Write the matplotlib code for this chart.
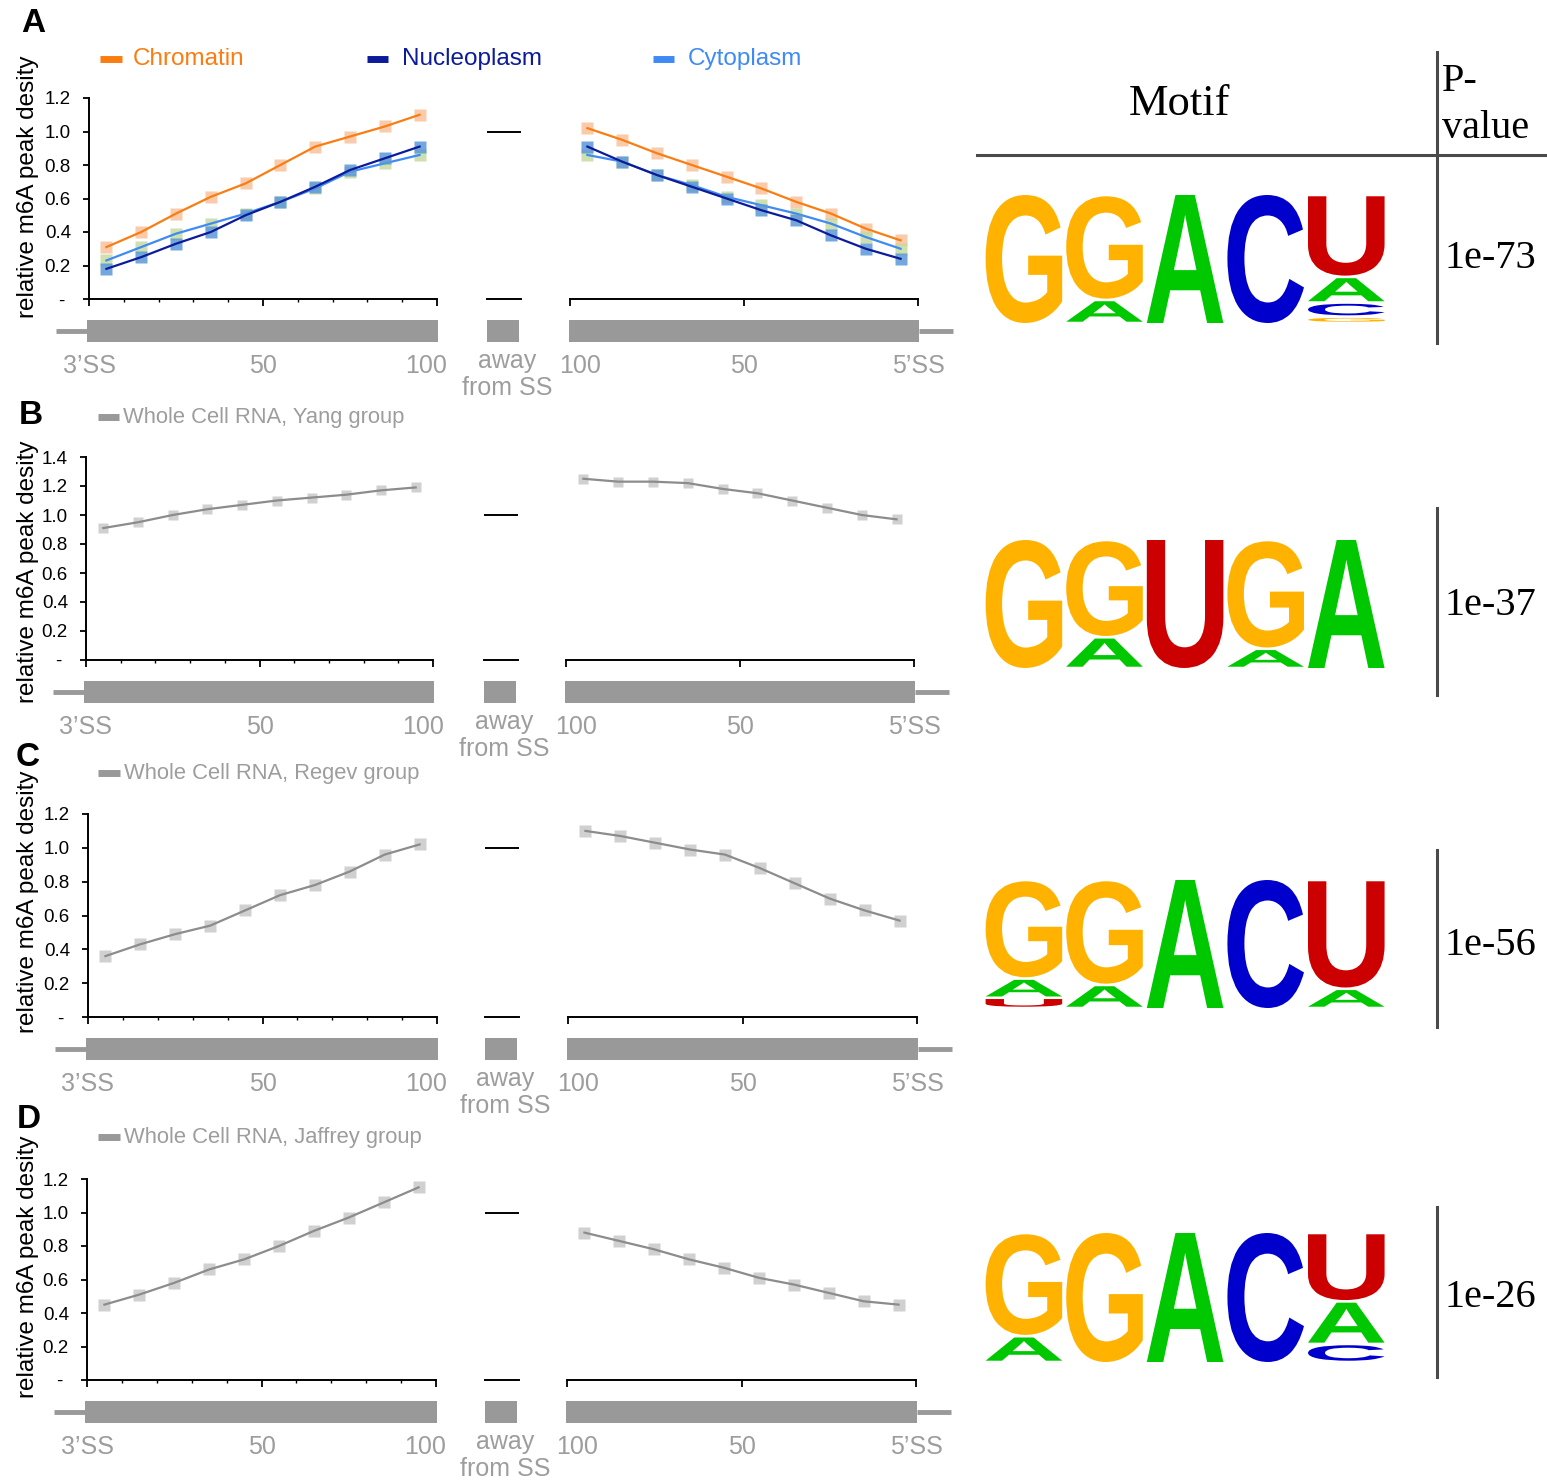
import numpy as np
import matplotlib.pyplot as plt
import matplotlib.transforms as mtransforms
from matplotlib.font_manager import FontProperties
from matplotlib.lines import Line2D
from matplotlib.patches import PathPatch, Rectangle
from matplotlib.textpath import TextPath

W, H = 1547, 1481
plt.rcParams['font.family'] = ['Liberation Sans', 'DejaVu Sans']

# bin centres (% of exon length) measured from the 3'SS and from the 5'SS
POS_FROM_3SS = [5, 15, 25, 35, 45, 55, 65, 75, 85, 95]
POS_FROM_5SS = [95, 85, 75, 65, 55, 45, 35, 25, 15, 5]
AWAY_LEVEL = 1.0

# panel A: fractionated RNA
A_CHROM_3 = [0.31, 0.40, 0.51, 0.61, 0.69, 0.80, 0.91, 0.97, 1.03, 1.10]
A_NUCL_3 = [0.18, 0.25, 0.33, 0.40, 0.50, 0.58, 0.67, 0.77, 0.84, 0.91]
A_CYTO_3 = [0.23, 0.31, 0.39, 0.45, 0.51, 0.58, 0.66, 0.76, 0.81, 0.86]
A_CHROM_5 = [1.02, 0.95, 0.87, 0.80, 0.73, 0.66, 0.58, 0.51, 0.42, 0.35]
A_NUCL_5 = [0.91, 0.82, 0.74, 0.67, 0.60, 0.53, 0.47, 0.38, 0.30, 0.24]
A_CYTO_5 = [0.86, 0.82, 0.74, 0.68, 0.61, 0.56, 0.51, 0.45, 0.37, 0.30]

# panels B-D: whole cell RNA
B_YANG_3 = [0.91, 0.95, 1.00, 1.04, 1.07, 1.10, 1.12, 1.14, 1.17, 1.19]
B_YANG_5 = [1.25, 1.23, 1.23, 1.22, 1.18, 1.15, 1.10, 1.05, 1.00, 0.97]
C_REGEV_3 = [0.36, 0.43, 0.49, 0.54, 0.63, 0.72, 0.78, 0.86, 0.96, 1.02]
C_REGEV_5 = [1.10, 1.07, 1.03, 0.99, 0.96, 0.88, 0.79, 0.70, 0.63, 0.57]
D_JAFF_3 = [0.45, 0.51, 0.58, 0.66, 0.72, 0.80, 0.89, 0.97, 1.06, 1.15]
D_JAFF_5 = [0.88, 0.83, 0.78, 0.72, 0.67, 0.61, 0.57, 0.52, 0.47, 0.45]

# motif letter frequencies per position, stacked bottom -> top
MOTIF_A = [[('G', 1.0)], [('A', 0.18), ('G', 0.82)], [('A', 1.0)], [('C', 1.0)],
           [('G', 0.05), ('C', 0.11), ('A', 0.20), ('U', 0.64)]]
MOTIF_B = [[('G', 1.0)], [('A', 0.24), ('G', 0.76)], [('U', 1.0)],
           [('A', 0.15), ('G', 0.85)], [('A', 1.0)]]
MOTIF_C = [[('U', 0.08), ('A', 0.15), ('G', 0.77)], [('A', 0.18), ('G', 0.82)],
           [('A', 1.0)], [('C', 1.0)], [('A', 0.15), ('U', 0.85)]]
MOTIF_D = [[('A', 0.2), ('G', 0.8)], [('G', 1.0)], [('A', 1.0)], [('C', 1.0)],
           [('C', 0.14), ('A', 0.33), ('U', 0.53)]]
PVALUES = ['1e-73', '1e-37', '1e-56', '1e-26']

TRACK_LABELS_3 = ['3\u2019SS', '50', '100']
TRACK_LABELS_5 = ['100', '50', '5\u2019SS']
TRACK_LABEL_POS_3 = [0, 50, 97]
TRACK_LABEL_POS_5 = [97, 50, 0]

ORANGE, NAVY, SKY = '#fb7d12', '#0b1b9a', '#3f8af5'
GENE = '#999999'
GREY_TXT = '#9d9d9d'
BASE_COL = {'G': '#ffb300', 'A': '#00c800', 'C': '#0000cc', 'U': '#cc0000'}
TRACK_FS = 18

fig = plt.figure(figsize=(W / 100, H / 100), dpi=100)


def px_rect(x0, y0, x1, y1):
    return [x0 / W, 1 - y1 / H, (x1 - x0) / W, (y1 - y0) / H]


def fx(x):
    return x / W


def fy(y):
    return 1 - y / H


def gene_track(ax, h, x_lo, x_hi, intron=None):
    trans = ax.get_xaxis_transform()
    y0, y1 = -43 / h, -21 / h
    ax.add_patch(Rectangle((x_lo, y0), x_hi - x_lo, y1 - y0, transform=trans,
                           fc=GENE, ec='none', clip_on=False))
    if intron is not None:
        ax.plot(intron, [(y0 + y1) / 2] * 2, transform=trans, color=GENE,
                lw=3.5, clip_on=False, solid_capstyle='butt')


def track_labels(ax, h, xs, labels):
    trans = ax.get_xaxis_transform()
    for x, s in zip(xs, labels):
        ax.text(x, -74 / h, s, transform=trans, ha='center', va='baseline',
                color=GREY_TXT, fontsize=TRACK_FS)


def make_panel(lay, ymax, series):
    top, bottom = lay['top'], lay['bottom']
    h = bottom - top

    # distance from the 3'SS
    ax = fig.add_axes(px_rect(lay['left'][0], top, lay['left'][1], bottom))
    ax.patch.set_alpha(0)
    for s in ('top', 'right'):
        ax.spines[s].set_visible(False)
    for s in ('left', 'bottom'):
        ax.spines[s].set_linewidth(1.4)
    ax.set_xlim(0, 100)
    ax.set_ylim(0, ymax)
    ax.set_xticks([0, 50, 100])
    ax.set_xticks(np.arange(10, 100, 10), minor=True)
    ax.set_xticklabels([])
    ax.tick_params(axis='x', which='major', direction='out', length=5, width=1.3)
    ax.tick_params(axis='x', which='minor', direction='out', length=2.5, width=1)
    yt = np.round(np.arange(0, ymax + 0.001, 0.2), 1)
    ax.set_yticks(yt)
    ax.set_yticklabels(['- '] + ['%.1f' % v for v in yt[1:]], fontsize=13.5)
    ax.tick_params(axis='y', direction='out', length=4, width=1.3, pad=9)
    for vals, lc, mc, ms in series:
        ax.plot(POS_FROM_3SS, vals[0], ls='none', marker='s', ms=ms, mfc=mc,
                mec='none', alpha=0.85, clip_on=False)
        ax.plot(POS_FROM_3SS, vals[0], color=lc, lw=1.6, clip_on=False)
    gene_track(ax, h, -0.6, 100.3, intron=(-9.5, -0.6))
    track_labels(ax, h, TRACK_LABEL_POS_3, TRACK_LABELS_3)

    # far from either splice site
    axm = fig.add_axes(px_rect(lay['mid'][0], top, lay['mid'][1], bottom))
    axm.patch.set_alpha(0)
    for s in ('top', 'right', 'left'):
        axm.spines[s].set_visible(False)
    axm.spines['bottom'].set_linewidth(1.4)
    axm.set_xlim(0, 1)
    axm.set_ylim(0, ymax)
    axm.set_xticks([])
    axm.set_yticks([])
    axm.plot([0, 1], [AWAY_LEVEL, AWAY_LEVEL], color='black', lw=1.4)
    gene_track(axm, h, 0.0, 0.93)
    tr = axm.get_xaxis_transform()
    axm.text(0.6, -69 / h, 'away', transform=tr, ha='center', va='baseline',
             color=GREY_TXT, fontsize=TRACK_FS)
    axm.text(0.6, -96 / h, 'from SS', transform=tr, ha='center', va='baseline',
             color=GREY_TXT, fontsize=TRACK_FS)

    # distance from the 5'SS
    axr = fig.add_axes(px_rect(lay['right'][0], top, lay['right'][1], bottom))
    axr.patch.set_alpha(0)
    for s in ('top', 'right', 'left'):
        axr.spines[s].set_visible(False)
    axr.spines['bottom'].set_linewidth(1.4)
    axr.set_xlim(100, 0)
    axr.set_ylim(0, ymax)
    axr.set_xticks([100, 50, 0])
    axr.set_xticklabels([])
    axr.set_yticks([])
    axr.tick_params(axis='x', direction='out', length=5, width=1.3)
    for vals, lc, mc, ms in series:
        axr.plot(POS_FROM_5SS, vals[1], ls='none', marker='s', ms=ms, mfc=mc,
                 mec='none', alpha=0.85, clip_on=False)
        axr.plot(POS_FROM_5SS, vals[1], color=lc, lw=1.6, clip_on=False)
    gene_track(axr, h, 100.3, -0.3, intron=(-0.3, -10.0))
    track_labels(axr, h, TRACK_LABEL_POS_5, TRACK_LABELS_5)

    fig.text(fx(lay['tag'][0]), fy(lay['tag'][1]), lay['name'], ha='center',
             va='center', fontsize=24, fontweight='bold')
    fig.text(fx(28), fy(lay['ylab_y']), 'relative m6A peak desity', rotation=90,
             ha='center', va='center', fontsize=17.5)


def legend_entry(x0, x1, xt, y, text, color, tcolor, size):
    fig.add_artist(Line2D([fx(x0), fx(x1)], [fy(y), fy(y)], color=color, lw=5,
                          solid_capstyle='butt', transform=fig.transFigure))
    fig.text(fx(xt), fy(y), text, color=tcolor, fontsize=size, ha='left',
             va='center')


LOGO_FONT = FontProperties(family='Liberation Sans', weight='bold')


def draw_letter(ax, ch, x, y, w, h, color):
    tp = TextPath((0, 0), ch, size=1, prop=LOGO_FONT)
    bb = tp.get_extents()
    t = (mtransforms.Affine2D().translate(-bb.x0, -bb.y0)
         .scale(w / bb.width, h / bb.height).translate(x, y))
    ax.add_patch(PathPatch(t.transform_path(tp), fc=color, ec='none'))


def draw_logo(top, bottom, motif):
    ax = fig.add_axes(px_rect(984, top, 1387, bottom))
    ax.set_xlim(0, len(motif))
    ax.set_ylim(0, 1)
    ax.axis('off')
    for i, col in enumerate(motif):
        y = 0.0
        for base, p in col:
            gap = 0.02 if p < 1 else 0.0
            draw_letter(ax, base, i + 0.02, y + gap / 2, 0.95, p - gap,
                        BASE_COL[base])
            y += p


LAYOUT = [
    dict(name='A', top=98, bottom=299, left=(89, 437), mid=(487, 521),
         right=(570, 918), tag=(33, 24), ylab_y=187),
    dict(name='B', top=457, bottom=660, left=(86, 433), mid=(484, 518),
         right=(566, 914), tag=(31, 415), ylab_y=572),
    dict(name='C', top=814, bottom=1017, left=(88, 437), mid=(485, 519),
         right=(568, 917), tag=(28, 757), ylab_y=902),
    dict(name='D', top=1179, bottom=1380, left=(87, 436), mid=(485, 519),
         right=(567, 916), tag=(29, 1120), ylab_y=1267),
]

make_panel(LAYOUT[0], 1.2, [
    ((A_CHROM_3, A_CHROM_5), ORANGE, '#f9c29c', 8),
    ((A_CYTO_3, A_CYTO_5), SKY, '#c6dba0', 8),
    ((A_NUCL_3, A_NUCL_5), NAVY, '#5b98d8', 8),
])
make_panel(LAYOUT[1], 1.4, [((B_YANG_3, B_YANG_5), '#8c8c8c', '#c8c8c8', 7)])
make_panel(LAYOUT[2], 1.2, [((C_REGEV_3, C_REGEV_5), '#8c8c8c', '#c8c8c8', 8)])
make_panel(LAYOUT[3], 1.2, [((D_JAFF_3, D_JAFF_5), '#8c8c8c', '#c8c8c8', 8)])

legend_entry(100, 122, 133, 59, 'Chromatin', ORANGE, ORANGE, 17.5)
legend_entry(367, 388, 402, 59, 'Nucleoplasm', NAVY, NAVY, 17.5)
legend_entry(653, 674, 688, 59, 'Cytoplasm', SKY, SKY, 17.5)
legend_entry(98, 119, 123, 417, 'Whole Cell RNA, Yang group', GENE, GREY_TXT, 15.8)
legend_entry(98, 120, 124, 773, 'Whole Cell RNA, Regev group', GENE, GREY_TXT, 15.8)
legend_entry(98, 120, 124, 1137, 'Whole Cell RNA, Jaffrey group', GENE, GREY_TXT, 15.8)

# motif table
SERIF = ['Liberation Serif', 'DejaVu Serif']
fig.text(fx(1179), fy(115), 'Motif', ha='center', va='baseline', fontsize=32,
         family=SERIF)
fig.text(fx(1442), fy(91), 'P-', ha='left', va='baseline', fontsize=29, family=SERIF)
fig.text(fx(1442), fy(138), 'value', ha='left', va='baseline', fontsize=29,
         family=SERIF)
fig.add_artist(Line2D([fx(977), fx(1547)], [fy(155), fy(155)], color='#4a4a4a',
                      lw=2.2, transform=fig.transFigure))

rows = [(195, 323, MOTIF_A, 52, 343, 268), (540, 668, MOTIF_B, 508, 695, 615),
        (880, 1008, MOTIF_C, 850, 1027, 955), (1233, 1362, MOTIF_D, 1207, 1377, 1307)]
for (ltop, lbot, motif, vtop, vbot, pbase), pval in zip(rows, PVALUES):
    draw_logo(ltop, lbot, motif)
    fig.add_artist(Line2D([fx(1437), fx(1437)], [fy(vtop), fy(vbot)],
                          color='#4a4a4a', lw=2.2, transform=fig.transFigure))
    fig.text(fx(1444), fy(pbase), pval, ha='left', va='baseline', fontsize=29,
             family=SERIF)

fig.savefig('out.png', dpi=100)
